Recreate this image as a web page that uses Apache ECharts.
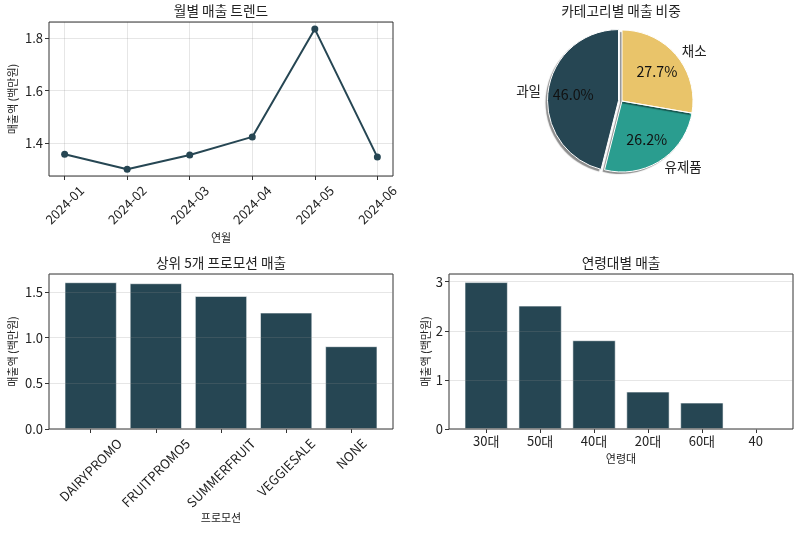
<!DOCTYPE html>
<html><head><meta charset="utf-8">
<script src="https://cdn.jsdelivr.net/npm/echarts@6/dist/echarts.min.js"></script>
<style>html,body{margin:0;padding:0;background:#fff}#c{width:800px;height:533px}</style>
</head><body><div id="c"></div>
<script>
// ---- data ----
const months = ['2024-01','2024-02','2024-03','2024-04','2024-05','2024-06'];
const monthlySales = [1.358, 1.301, 1.355, 1.424, 1.835, 1.347];
const categories = ['과일','유제품','채소'];
const categoryShare = [46.0, 26.2, 27.7];
const categoryColors = ['#264653','#2a9d8f','#e9c46a'];
const promotions = ['DAIRYPROMO','FRUITPROMO5','SUMMERFRUIT','VEGGIESALE','NONE'];
const promoSales = [1.605, 1.594, 1.455, 1.273, 0.905];
const ageGroups = ['30대','50대','40대','20대','60대','40'];
const ageSales = [2.99, 2.511, 1.806, 0.760, 0.536, 0];

// ---- style ----
const FONT = "'Noto Sans CJK KR', 'Noto Sans', sans-serif";
const TXT = '#222';
const DARK = '#264653';
const GRIDC = 'rgba(140,140,140,0.22)';
const TICKFS = 13;
const P = {
  tl: {left:49, top:22, width:344, height:154},
  bl: {left:49, top:274, width:344, height:155},
  br: {left:449, top:274, width:344, height:155}
};
function inset(p, frac) { const d = p.width*frac; return {left:p.left+d, top:p.top, width:p.width-2*d, height:p.height}; }
function barInsetFrac(n){ const band = 1/((n-0.2)*1.1); return (1 - n*band)/2; }
const lineInsetFrac = 0.25/5.5;

const mctx = document.createElement('canvas').getContext('2d');
function rotatedLabel(labels, fs) {
  mctx.font = fs + 'px ' + FONT;
  const rich = { t: {fontSize: fs, fontFamily: FONT, color: TXT, lineHeight: Math.round(fs*1.2)} };
  labels.forEach((l, i) => {
    const w = mctx.measureText(l).width;
    const k = 0.5*(w + fs*1.1);
    rich['g'+i] = {lineHeight: k, fontSize: 1, width: 1};
    rich['s'+i] = {width: k, fontSize: 1};
  });
  return {
    rotate: 45, align: 'center', verticalAlign: 'middle', margin: 7, interval: 0,
    formatter: (v, i) => '{g'+i+'| }\n{t|'+v+'}{s'+i+'| }',
    rich
  };
}

const tick = {show:true, length:4, lineStyle:{color:'#333', width:1}};
const yLabel = (fmt, showMin) => ({fontSize:TICKFS, fontFamily:FONT, color:TXT, margin:6, showMinLabel:showMin, showMaxLabel:false, formatter: fmt});
const nameStyle = {fontSize:11, fontFamily:FONT, color:TXT};
const outerGrid = (p) => Object.assign({show:true, borderColor:'#333', borderWidth:1, backgroundColor:'transparent', z:5}, p);

const option = {
  animation: false,
  backgroundColor: '#fff',
  textStyle: {fontFamily: FONT},
  title: [
    {text:'월별 매출 트렌드', left:221, top:4},
    {text:'카테고리별 매출 비중', left:621, top:4},
    {text:'상위 5개 프로모션 매출', left:221, top:256},
    {text:'연령대별 매출', left:621, top:256}
  ].map(t => Object.assign({textAlign:'center', padding:0, textStyle:{fontSize:13.7, fontWeight:'normal', color:TXT, fontFamily:FONT}}, t)),
  grid: [
    outerGrid(P.tl), inset(P.tl, lineInsetFrac),
    outerGrid(P.bl), inset(P.bl, barInsetFrac(promotions.length)),
    outerGrid(P.br), inset(P.br, barInsetFrac(ageGroups.length))
  ],
  xAxis: [
    {gridIndex:0, type:'value', show:false, min:0, max:1},
    {gridIndex:1, type:'category', data:months, boundaryGap:false,
     axisLine:{show:false}, axisTick:tick, splitLine:{show:true, lineStyle:{color:GRIDC}},
     axisLabel: rotatedLabel(months, TICKFS),
     name:'연월', nameLocation:'middle', nameGap:56, nameTextStyle:nameStyle},
    {gridIndex:2, type:'value', show:false, min:0, max:1},
    {gridIndex:3, type:'category', data:promotions, boundaryGap:true,
     axisLine:{show:false}, axisTick:Object.assign({alignWithLabel:true}, tick), splitLine:{show:false},
     axisLabel: rotatedLabel(promotions, TICKFS),
     name:'프로모션', nameLocation:'middle', nameGap:83, nameTextStyle:nameStyle},
    {gridIndex:4, type:'value', show:false, min:0, max:1},
    {gridIndex:5, type:'category', data:ageGroups, boundaryGap:true,
     axisLine:{show:false}, axisTick:Object.assign({alignWithLabel:true}, tick), splitLine:{show:false},
     axisLabel:{fontSize:TICKFS, fontFamily:FONT, color:TXT, margin:6, interval:0},
     name:'연령대', nameLocation:'middle', nameGap:24, nameTextStyle:nameStyle}
  ],
  yAxis: [
    {gridIndex:0, type:'value', min:1.275, max:1.862, splitNumber:3,
     axisLine:{show:false}, axisTick:tick, splitLine:{show:true, lineStyle:{color:GRIDC}},
     axisLabel: yLabel(v => v.toFixed(1), false),
     name:'매출액 (백만원)', nameLocation:'middle', nameGap:31, nameTextStyle:nameStyle},
    {gridIndex:1, type:'value', min:1.275, max:1.862, show:false, splitLine:{show:false}},
    {gridIndex:2, type:'value', min:0, max:1.696, interval:0.5, z:5,
     axisLine:{show:false}, axisTick:tick, splitLine:{show:true, lineStyle:{color:GRIDC}},
     axisLabel: yLabel(v => v.toFixed(1), true),
     name:'매출액 (백만원)', nameLocation:'middle', nameGap:31, nameTextStyle:nameStyle},
    {gridIndex:3, type:'value', min:0, max:1.696, show:false, splitLine:{show:false}},
    {gridIndex:4, type:'value', min:0, max:3.157, interval:1, z:5,
     axisLine:{show:false}, axisTick:tick, splitLine:{show:true, lineStyle:{color:GRIDC}},
     axisLabel: yLabel(v => String(v), true),
     name:'매출액 (백만원)', nameLocation:'middle', nameGap:18, nameTextStyle:nameStyle},
    {gridIndex:5, type:'value', min:0, max:3.157, show:false, splitLine:{show:false}}
  ],
  series: [
    {type:'line', xAxisIndex:1, yAxisIndex:1, data:monthlySales, symbol:'circle', symbolSize:7,
     lineStyle:{color:DARK, width:2}, itemStyle:{color:DARK}, emphasis:{disabled:true}},
    {type:'bar', xAxisIndex:3, yAxisIndex:3, data:promoSales, barWidth:'80%',
     itemStyle:{color:DARK, borderColor:'rgba(255,255,255,0.7)', borderWidth:0.8}, emphasis:{disabled:true}},
    {type:'bar', xAxisIndex:5, yAxisIndex:5, data:ageSales, barWidth:'80%',
     itemStyle:{color:DARK, borderColor:'rgba(255,255,255,0.7)', borderWidth:0.8}, emphasis:{disabled:true}}
  ]
};

const pieCenter = [622, 101], R = 71;
const pieCommon = {type:'pie', center:pieCenter, clockwise:false, startAngle:90,
  selectedMode:'single', selectedOffset:3.5, avoidLabelOverlap:false, emphasis:{disabled:true}, silent:true};
const pieData = (extra) => categories.map((c,i) => Object.assign({name:c, value:categoryShare[i], selected: i===0}, extra ? extra(i) : {}));
// filled wedges with drop shadow (no border, so the shadow of the border does not fall on the fill)
option.series.push(Object.assign({}, pieCommon, {
  radius: R, z: 2,
  data: pieData(i => ({itemStyle:{color:categoryColors[i]}})),
  itemStyle:{borderWidth:0, shadowColor:'rgba(0,0,0,0.45)', shadowBlur:1, shadowOffsetX:-2, shadowOffsetY:2},
  label:{show:false}, labelLine:{show:false}
}));
// white wedge edges + outside category labels
option.series.push(Object.assign({}, pieCommon, {
  radius: R, z: 3,
  data: pieData(() => ({itemStyle:{color:'rgba(0,0,0,0)'}})),
  itemStyle:{color:'rgba(0,0,0,0)', borderColor:'#fff', borderWidth:1},
  label:{show:true, position:'outside', formatter:'{b}', fontSize:13.5, fontFamily:FONT, color:TXT, distanceToLabelLine:0},
  labelLine:{show:false, length:7.1, length2:0}
}));
// percent labels at 0.6 R
option.series.push(Object.assign({}, pieCommon, {
  radius: R*1.2, z: 3,
  data: pieData(() => ({itemStyle:{color:'rgba(0,0,0,0)'}})),
  itemStyle:{color:'rgba(0,0,0,0)', borderWidth:0},
  label:{show:true, position:'inside', formatter: p => p.value.toFixed(1) + '%', fontSize:14.3, fontFamily:FONT, color:'#111'},
  labelLine:{show:false}
}));

const chart = echarts.init(document.getElementById('c'), null, {renderer:'canvas'});
chart.setOption(option);
</script>
</body></html>
